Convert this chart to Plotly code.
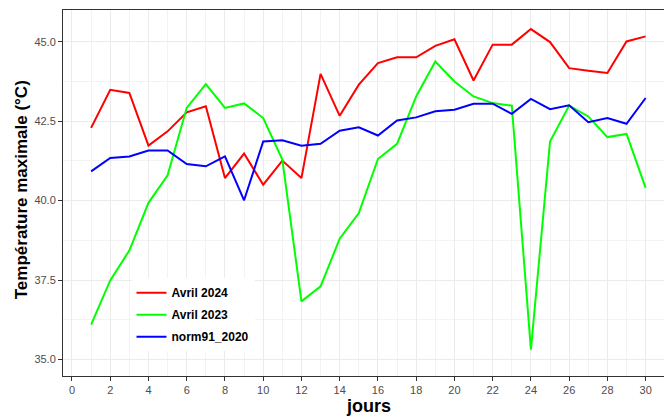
import plotly.graph_objects as go

jours = list(range(1, 31))

avril_2024 = [42.29, 43.49, 43.39, 41.73, 42.18, 42.78, 42.97, 40.71, 41.48, 40.50,
              41.26, 40.71, 43.99, 42.67, 43.65, 44.33, 44.51, 44.51, 44.87, 45.08,
              43.78, 44.91, 44.91, 45.40, 44.99, 44.17, 44.09, 44.02, 45.01, 45.17]

avril_2023 = [36.10, 37.49, 38.43, 39.93, 40.80, 42.92, 43.67, 42.92, 43.06, 42.60,
              41.29, 36.83, 37.30, 38.80, 39.61, 41.31, 41.79, 43.28, 44.38, 43.75,
              43.28, 43.07, 42.99, 35.31, 41.86, 42.99, 42.65, 42.00, 42.10, 40.40]

norm91_2020 = [40.92, 41.34, 41.39, 41.58, 41.58, 41.15, 41.08, 41.39, 40.01, 41.86,
               41.90, 41.73, 41.79, 42.20, 42.31, 42.05, 42.52, 42.62, 42.81, 42.86,
               43.05, 43.05, 42.73, 43.20, 42.88, 43.00, 42.47, 42.60, 42.42, 43.23]

series = [
    ("Avril 2024", avril_2024, "#ff0000"),
    ("Avril 2023", avril_2023, "#00ff00"),
    ("norm91_2020", norm91_2020, "#0000ff"),
]

fig = go.Figure()
for name, vals, color in series:
    fig.add_trace(go.Scatter(x=jours, y=vals, mode="lines", name="<b>" + name + "</b>",
                             legendgroup=name,
                             line=dict(color=color, width=2)))

axis_style = dict(
    showgrid=True, gridcolor="#ebebeb", gridwidth=1,
    showline=True, linecolor="#333333", linewidth=1, mirror=True,
    ticks="outside", ticklen=4, tickcolor="#333333",
    tickfont=dict(size=11, color="#4d4d4d"),
    zeroline=False, automargin=False,
)

fig.update_xaxes(
    **axis_style,
    range=[-0.47, 30.96], tick0=0, dtick=2,
    minor=dict(dtick=1, showgrid=True, gridcolor="#f3f3f3"),
)
fig.update_yaxes(
    **axis_style,
    range=[34.48, 46.0], tick0=35, dtick=2.5, tickformat=".1f",
    minor=dict(dtick=1.25, showgrid=True, gridcolor="#f3f3f3"),
)

# axis titles placed as annotations so they sit where the reference has them
fig.add_annotation(text="<b>jours</b>", xref="paper", yref="paper",
                   x=0.508, y=-0.083, xanchor="center", yanchor="middle",
                   showarrow=False, font=dict(size=18, color="black"))
fig.add_annotation(text="<b>Température maximale (°C)</b>", xref="paper", yref="paper",
                   x=-0.07, y=0.51, xanchor="center", yanchor="middle", textangle=-90,
                   showarrow=False, font=dict(size=17, color="black"))

fig.update_layout(
    width=664, height=416,
    margin=dict(l=63, r=0, t=10, b=40, autoexpand=False),
    plot_bgcolor="white", paper_bgcolor="white",
    font=dict(family="Arial, Liberation Sans, sans-serif"),
    legend=dict(x=0.114, y=0.267, xanchor="left", yanchor="top",
                bgcolor="white", font=dict(size=12, color="black"),
                itemwidth=30, tracegroupgap=3),
)

# drop the browser's default page margin so the figure fills the window
fig.write_html("out.html", config={"displayModeBar": False},
               post_script="document.body.style.margin = '0';")
